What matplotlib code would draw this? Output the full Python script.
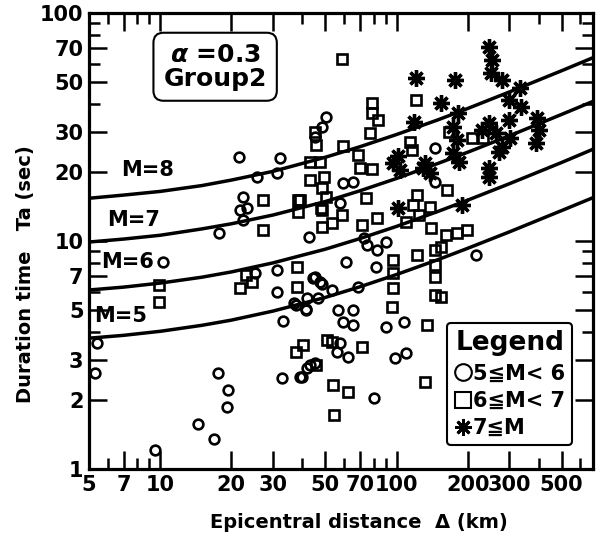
import matplotlib.pyplot as plt
from matplotlib.lines import Line2D
from matplotlib.ticker import FixedLocator, NullFormatter, FixedFormatter

plt.rcParams['font.family'] = ['DejaVu Sans']
plt.rcParams['font.weight'] = 'bold'

# 5 <= M < 6  (circles)
circle_dist = [5.4, 5.3, 10.3, 9.5, 17.5, 19.3, 19.1, 14.4, 16.9, 21.5, 25.6, 31.1, 32.1,
               22.4, 22.4, 17.7, 21.7, 23.4, 31.2, 31.2, 33.1, 32.7, 39, 25.3, 37.4, 41.2,
               42, 46.4, 42, 39.8, 42.9, 45, 50.2, 48.3, 45.4, 59.2, 65.3, 57.5, 42.5, 45,
               44.3, 48.3, 72.7, 75, 82.3, 90, 81.5, 61.3, 47.3, 53.3, 68.5, 56.4, 65.3,
               59.2, 65.3, 57.5, 55.9, 62.2, 90, 108, 98.7, 110, 80.6, 145, 145, 217, 36.7, 41.2]
circle_ta = [3.57, 2.64, 8.1, 1.21, 2.64, 2.22, 1.87, 1.58, 1.35, 23.4, 19.1, 19.8, 23.2,
             15.6, 12.4, 10.8, 13.7, 14, 7.46, 5.96, 4.46, 2.5, 2.53, 7.25, 5.23, 4.98,
             5.6, 5.6, 2.77, 2.53, 2.85, 2.92, 34.9, 31.6, 28.7, 18, 18.2, 14.7, 10.4, 6.95,
             6.9, 6.5, 10.3, 9.6, 9.14, 9.9, 7.7, 8.1, 6.6, 6.1, 6.3, 4.98, 4.98,
             4.4, 4.27, 3.57, 3.26, 3.1, 4.2, 4.4, 3.06, 3.22, 2.05, 25.6, 18.1, 8.7, 5.35, 5.06]

# 6 <= M < 7  (squares)
square_dist = [9.9, 9.9, 21.7, 24.4, 23, 27.2, 27.2, 38.2, 38.2, 37.8, 37.8, 37.4, 40.2,
               45.8, 50.7, 53.3, 71.1, 53.8, 62.2, 54.3, 132, 50.2, 74.3, 48.3, 53.3, 48.3,
               58.6, 71.1, 82.3, 110, 117, 125, 122, 138, 140, 164, 162, 146, 122, 96.4,
               96.4, 96.4, 95.5, 145, 145, 146, 134, 58.6, 121, 78.5, 78.5, 83.5, 77, 59.2,
               69, 69.8, 78.5, 49.2, 48.3, 45, 45.8, 42.9, 47.3, 42.9, 39, 47.8, 113.5, 116,
               167, 208, 233, 180, 199, 155, 155]
square_ta = [6.4, 5.4, 6.2, 6.6, 7.1, 15.1, 11.2, 15.1, 13.4, 7.7, 6.3, 3.26, 3.5,
             2.85, 3.68, 3.6, 3.42, 2.34, 2.17, 1.72, 2.41, 15.6, 15.4, 13.7, 12, 11.5,
             13, 11.7, 12.6, 12.1, 14.4, 13, 15.9, 14.1, 11.4, 16.7, 10.6, 9.14, 8.7, 8.26,
             7.25, 6.2, 5.13, 7.85, 6.95, 5.8, 4.3, 62.9, 41.5, 40.3, 36.4, 34, 29.8, 26.1,
             23.8, 21, 20.7, 19.1, 17, 30, 26.3, 22.2, 22.2, 18.5, 15.1, 14, 27.2, 25.1,
             30, 28.3, 28.3, 10.8, 11.2, 9.4, 5.7]

# 7 <= M  (asterisks)
star_dist = [247, 254, 252, 279, 334, 300, 337, 300, 247, 231, 264, 394, 402, 390, 279,
             303, 272, 247, 247, 121, 176, 155, 119, 182, 173, 180, 173, 184.5, 97, 129,
             101, 190, 132, 138, 101, 103]
star_ta = [70.6, 62.2, 54.6, 50.8, 46.8, 41.5, 38.8, 34, 33, 30.7, 29.7, 34.6, 30.7, 26.9,
           25.8, 28.3, 24.6, 21, 19.1, 51.9, 50.8, 40.3, 33.3, 36.4, 31.6, 27.7, 24.3, 22.2,
           22, 20.9, 14, 14.4, 22, 19.8, 23.6, 20.5]

# model curves for M = 5..8
curve_dist = [5, 7, 10, 15, 20, 30, 50, 70, 100, 150, 200, 300, 500, 700]
curve_m5 = [3.75, 3.86, 4.02, 4.27, 4.50, 4.93, 5.66, 6.30, 7.13, 8.29, 9.29, 10.96, 13.6, 15.7]
curve_m6 = [6.1, 6.28, 6.54, 6.94, 7.32, 8.02, 9.21, 10.25, 11.59, 13.49, 15.10, 17.82, 22.1, 25.6]
curve_m7 = [9.9, 10.2, 10.6, 11.3, 11.9, 13.0, 14.9, 16.6, 18.8, 21.9, 24.5, 28.9, 35.9, 41.5]
curve_m8 = [15.4, 15.9, 16.5, 17.5, 18.5, 20.2, 23.3, 25.9, 29.3, 34.0, 38.1, 45.0, 55.8, 64.5]
curve_labels = ['M=5', 'M=6', 'M=7', 'M=8']
label_pos = [(6.8, 4.7), (7.3, 8.1), (7.7, 12.4), (8.8, 20.5)]

x_ticks = [5, 7, 10, 20, 30, 50, 70, 100, 200, 300, 500]
x_minor = [6, 8, 9, 40, 60, 80, 90, 400, 600]
y_ticks = [1, 2, 3, 5, 7, 10, 20, 30, 50, 70, 100]
y_minor = [4, 6, 8, 9, 40, 60, 80, 90]

fig = plt.figure(figsize=(5.98, 5.38), dpi=100)
ax = fig.add_axes([0.149, 0.128, 0.843, 0.848])
ax.set_xscale('log')
ax.set_yscale('log')
ax.set_xlim(5, 680)
ax.set_ylim(1, 100)

for c in [curve_m5, curve_m6, curve_m7, curve_m8]:
    ax.plot(curve_dist, c, color='black', lw=2.5, zorder=2)
for lab, (lx, ly) in zip(curve_labels, label_pos):
    ax.text(lx, ly, lab, fontsize=15, fontweight='bold', ha='center', va='center')

ax.plot(circle_dist, circle_ta, 'o', ms=7, mfc='none', mec='black', mew=1.9, zorder=3)
ax.plot(square_dist, square_ta, 's', ms=7.5, mfc='none', mec='black', mew=1.9, zorder=3)
ax.plot(star_dist, star_ta, marker=(8, 2, 0), ls='none', ms=12, mec='black', mew=2.4, zorder=3)

ax.xaxis.set_major_locator(FixedLocator(x_ticks))
ax.xaxis.set_major_formatter(FixedFormatter([str(v) for v in x_ticks]))
ax.xaxis.set_minor_locator(FixedLocator(x_minor))
ax.xaxis.set_minor_formatter(NullFormatter())
ax.yaxis.set_major_locator(FixedLocator(y_ticks))
ax.yaxis.set_major_formatter(FixedFormatter([str(v) for v in y_ticks]))
ax.yaxis.set_minor_locator(FixedLocator(y_minor))
ax.yaxis.set_minor_formatter(NullFormatter())
ax.tick_params(which='both', direction='in', top=True, right=True, width=1.8,
               labelsize=15, pad=4)
ax.tick_params(which='major', length=13)
ax.tick_params(which='minor', length=8)
for lbl in ax.get_xticklabels() + ax.get_yticklabels():
    lbl.set_fontweight('bold')
for s in ax.spines.values():
    s.set_linewidth(2.3)

ax.text(0.25, 0.882, '$\\alpha$ =0.3\nGroup2', transform=ax.transAxes, fontsize=18,
        fontweight='bold', ha='center', va='center', linespacing=1.0,
        bbox=dict(boxstyle='round,pad=0.4', fc='white', ec='black', lw=1.5))

handles = [Line2D([], [], marker='o', ls='none', ms=12, mfc='none', mec='black', mew=1.5),
           Line2D([], [], marker='s', ls='none', ms=11, mfc='none', mec='black', mew=1.5),
           Line2D([], [], marker=(8, 2, 0), ls='none', ms=12, mec='black', mew=2)]
leg = ax.legend(handles, ['5≦M< 6', '6≦M< 7', '7≦M'], title='Legend',
                loc='lower left', bbox_to_anchor=(0.71, 0.052),
                prop={'weight': 'bold', 'size': 15},
                title_fontproperties={'weight': 'bold', 'size': 19},
                handlelength=0.8, handletextpad=0.1, borderpad=0.35,
                labelspacing=0.35, fancybox=True, framealpha=1, borderaxespad=0)
leg.get_frame().set_edgecolor('black')
leg.get_frame().set_linewidth(1.5)

fig.text(0.042, 0.49, 'Duration time   Ta (sec)', rotation=90, fontsize=14,
         fontweight='bold', ha='center', va='center')
fig.text(0.60, 0.028, 'Epicentral distance  Δ (km)', fontsize=14,
         fontweight='bold', ha='center', va='center')

fig.savefig('out.png', dpi=100)
